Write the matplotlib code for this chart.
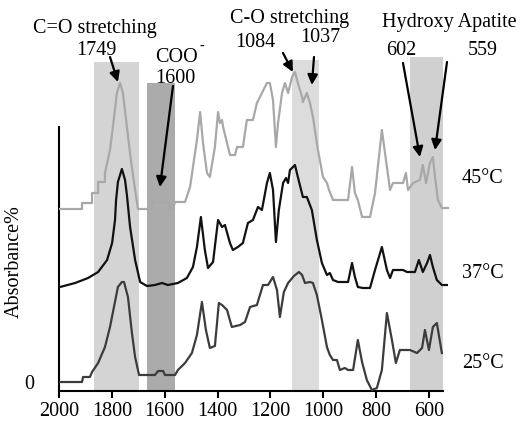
import matplotlib
matplotlib.use("Agg")
import matplotlib.pyplot as plt
from matplotlib.patches import Rectangle

plt.rcParams['font.family'] = ['Liberation Serif', 'DejaVu Serif']

# ---------------- data (wavenumber cm-1, absorbance in arbitrary units) ----------------
w45 = [2000, 1913, 1913, 1875, 1875, 1852, 1852, 1826, 1826, 1807, 1796, 1781, 1769, 1758,
       1743, 1728, 1712, 1701, 1648, 1648, 1588, 1580, 1569, 1561, 1523, 1504, 1478, 1466,
       1455, 1440, 1429, 1410, 1398, 1391, 1383, 1379, 1364, 1353, 1334, 1326, 1304, 1289,
       1266, 1251, 1232, 1213, 1202, 1190, 1179, 1171, 1156, 1145, 1133, 1118, 1107, 1096,
       1080, 1077, 1062, 1050, 1039, 1020, 1001, 986, 978, 963, 906, 891, 880, 869, 853,
       823, 804, 778, 759, 747, 736, 698, 687, 679, 660, 634, 623, 611, 596, 585, 577, 566,
       551, 528]
a45 = [173, 173, 179, 179, 189, 189, 200, 200, 209, 232, 255, 289, 299, 289,
       255, 222, 192, 173, 173, 180, 180, 173, 173, 180, 180, 195, 242, 270,
       239, 209, 205, 235, 270, 259, 262, 255, 239, 227, 227, 235, 235, 262,
       262, 279, 289, 299, 299, 282, 235, 259, 289, 299, 289, 305, 310, 299,
       285, 280, 289, 279, 265, 232, 205, 199, 192, 182, 182, 215, 189, 182, 165,
       165, 189, 252, 215, 192, 199, 199, 209, 192, 199, 202, 217, 199, 219, 225, 205, 182,
       174, 174]

w37 = [1996, 1939, 1890, 1852, 1818, 1799, 1788, 1784, 1777, 1762, 1750, 1743, 1731, 1712,
       1693, 1667, 1637, 1610, 1588, 1550, 1516, 1493, 1478, 1463, 1448, 1436, 1417, 1398,
       1383, 1372, 1353, 1342, 1323, 1304, 1285, 1266, 1247, 1232, 1213, 1202, 1190, 1179,
       1168, 1152, 1141, 1133, 1126, 1107, 1096, 1077, 1062, 1043, 1024, 1005, 986, 975,
       963, 944, 906, 891, 880, 869, 850, 823, 804, 778, 759, 747, 736, 698, 683, 653, 638,
       623, 607, 596, 585, 570, 551, 532]
a37 = [95, 99, 104, 110, 122, 139, 162, 182, 200, 213, 202, 187, 155, 122,
       100, 96, 97, 99, 97, 99, 104, 115, 135, 165, 132, 114, 120, 162,
       155, 157, 139, 132, 135, 139, 159, 162, 175, 172, 199, 209, 192, 140,
       172, 199, 204, 199, 212, 217, 205, 185, 185, 172, 142, 119, 107, 109,
       102, 100, 100, 119, 105, 95, 94, 94, 112, 135, 112, 104, 112, 112, 110, 110, 122,
       110, 119, 127, 115, 102, 97, 97]

w25 = [1996, 1913, 1909, 1883, 1875, 1852, 1826, 1807, 1792, 1777, 1762, 1754, 1739, 1724,
       1712, 1697, 1637, 1625, 1606, 1599, 1561, 1550, 1523, 1497, 1478, 1459, 1444, 1429,
       1410, 1395, 1383, 1364, 1346, 1315, 1296, 1277, 1251, 1228, 1209, 1190, 1175, 1164,
       1149, 1133, 1111, 1092, 1080, 1069, 1050, 1039, 1024, 1005, 986, 975, 963, 948, 937,
       918, 906, 887, 869, 853, 835, 816, 797, 778, 759, 740, 725, 710, 672, 645, 626, 615,
       600, 585, 570, 551]
a25 = [0, 0, 5, 5, 10, 19, 35, 55, 75, 95, 100, 100, 85, 49,
       25, 7, 7, 11, 11, 7, 7, 12, 19, 29, 47, 80, 52, 34,
       36, 79, 77, 72, 55, 57, 60, 75, 77, 97, 97, 105, 92, 65,
       90, 99, 106, 110, 107, 99, 100, 99, 87, 62, 35, 27, 22, 22, 12,
       14, 12, 12, 42, 20, 2, -8, -6, 12, 69, 42, 19, 32, 32, 29, 34, 52,
       32, 55, 59, 29]

xticks = [2000, 1800, 1600, 1400, 1200, 1000, 800, 600]

# shaded bands: (high wavenumber, low wavenumber, top, colour)
band_hi = [1868, 1667, 1119, 673]
band_lo = [1698, 1562, 1017, 545]
band_top = [320, 299, 322, 325]
band_col = ['#d4d4d4', '#ababab', '#dcdcdc', '#d0d0d0']

# ---------------- figure ----------------
W, H = 530, 425
fig = plt.figure(figsize=(W / 100, H / 100), dpi=100)
ax = fig.add_axes([59 / W, (H - 391) / H, 390 / W, 341 / H])
ax.set_xlim(2000, 524)
ax.set_ylim(-9, 332)

for hi, lo, top, c in zip(band_hi, band_lo, band_top, band_col):
    ax.add_patch(Rectangle((lo, -9), hi - lo, top + 9, facecolor=c, edgecolor='none', zorder=1))

ax.plot(w45, a45, color='#a8a8a8', lw=1.6, zorder=3)
ax.plot(w37, a37, color='#111111', lw=1.6, zorder=3)
ax.plot(w25, a25, color='#3c3c3c', lw=1.6, zorder=3)

for s in ['top', 'right']:
    ax.spines[s].set_visible(False)
ax.spines['left'].set_bounds(-9, 255)
ax.spines['bottom'].set_bounds(2000, 547)
ax.spines['left'].set_linewidth(1.5)
ax.spines['bottom'].set_linewidth(1.5)
ax.set_xticks(xticks)
ax.set_xticklabels([str(t) for t in xticks], fontsize=14.5)
ax.tick_params(axis='x', direction='out', length=5, width=1.5, pad=3)
ax.set_yticks([0])
ax.set_yticklabels(['0'], fontsize=14.5)
ax.tick_params(axis='y', length=0, pad=18)
ax.set_ylabel('Absorbance%', fontsize=14.5, labelpad=2)
ax.yaxis.set_label_coords(-0.09, 0.38)

FS = 14.5

def ftext(x, y, s, size=FS, **kw):
    fig.text(x / W, 1 - y / H, s, fontsize=size, va='baseline', **kw)

ftext(33, 33, 'C=O stretching')
ftext(76, 55, '1749')
ftext(155, 62, 'COO')
ftext(199, 50, '-', size=10)
ftext(155, 83, '1600')
ftext(230, 23, 'C-O stretching')
ftext(235, 47, '1084')
ftext(300, 42, '1037')
ftext(382, 27, 'Hydroxy Apatite')
ftext(386, 55, '602')
ftext(468, 55, '559')
ftext(462, 183, '45°C')
ftext(462, 278, '37°C')
ftext(462, 368, '25°C')

# arrows: head in data coordinates, tail in figure pixels (top-left origin)
arrow_heads = [(1777, 300), (1618, 195), (1115, 310), (1043, 297), (634, 225), (577, 232)]
arrow_tails = [(110, 57), (173, 86), (283, 53), (314, 57), (403, 63), (447, 62)]
for (hx, hy), (tx, ty) in zip(arrow_heads, arrow_tails):
    ax.annotate('', xy=(hx, hy), xycoords='data',
                xytext=(tx, H - ty), textcoords='figure pixels',
                arrowprops=dict(arrowstyle='-|>,head_length=0.6,head_width=0.3',
                                color='black', lw=1.6, shrinkA=0, shrinkB=0),
                annotation_clip=False, zorder=5)

fig.savefig('out.png', dpi=100)
